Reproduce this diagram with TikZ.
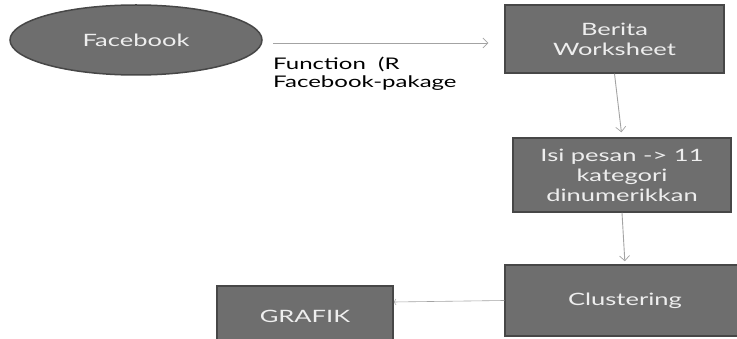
\documentclass[tikz,border=0pt]{standalone}
\usepackage{fontspec}
\setmainfont{Lato}[FakeStretch=1.5]
\usetikzlibrary{shapes.geometric,arrows.meta}

\definecolor{boxfill}{HTML}{6E6E6E}
\definecolor{boxline}{HTML}{474747}
\definecolor{boxtext}{HTML}{EEEEEE}
\definecolor{flow}{HTML}{A3A3A3}

\tikzset{
    box/.style={draw=boxline,line width=1.5pt,fill=boxfill,text=boxtext,align=center,
        font=\fontsize{17}{20}\selectfont},
    flowarrow/.style={draw=flow,line width=0.9pt,-{Straight Barb[length=5pt,width=10pt,line width=0.7pt]}}
}

\begin{document}
\begin{tikzpicture}[x=1pt,y=-1pt]
    \useasboundingbox (0,0) rectangle (737,339);
    \node[box,ellipse,minimum width=252,minimum height=70] (fb) at (136,40) {Facebook};
    \node[box,minimum width=219,minimum height=68] (berita) at (614.5,39) {Berita\\Worksheet};
    \node[box,minimum width=218,minimum height=74] (isi) at (622,175) {Isi pesan -> 11\\kategori\\dinumerikkan};
    \node[box,minimum width=240,minimum height=71] (clust) at (625,300.5) {Clustering};
    \node[box,minimum width=176,minimum height=60] (grafik) at (305,316) {GRAFIK};
    \node[anchor=north west,align=left,inner sep=0pt,font=\fontsize{16}{18}\selectfont] (lbl) at (273,57) {Function~~(R\\Facebook-pakage};
    \draw[flowarrow,shorten <=10pt,shorten >=16pt] ([yshift=-3]fb.east) -- ([yshift=-4]berita.west);
    \draw[flowarrow,shorten >=5pt] (berita.south) -- (isi.north);
    \draw[flowarrow,shorten >=3pt] (isi.south) -- (clust.north);
    \draw[flowarrow,line width=0.6pt,-{Straight Barb[length=2pt,width=6pt,line width=0.5pt]}] (clust.west) -- ([yshift=14]grafik.east);
\end{tikzpicture}
\end{document}
